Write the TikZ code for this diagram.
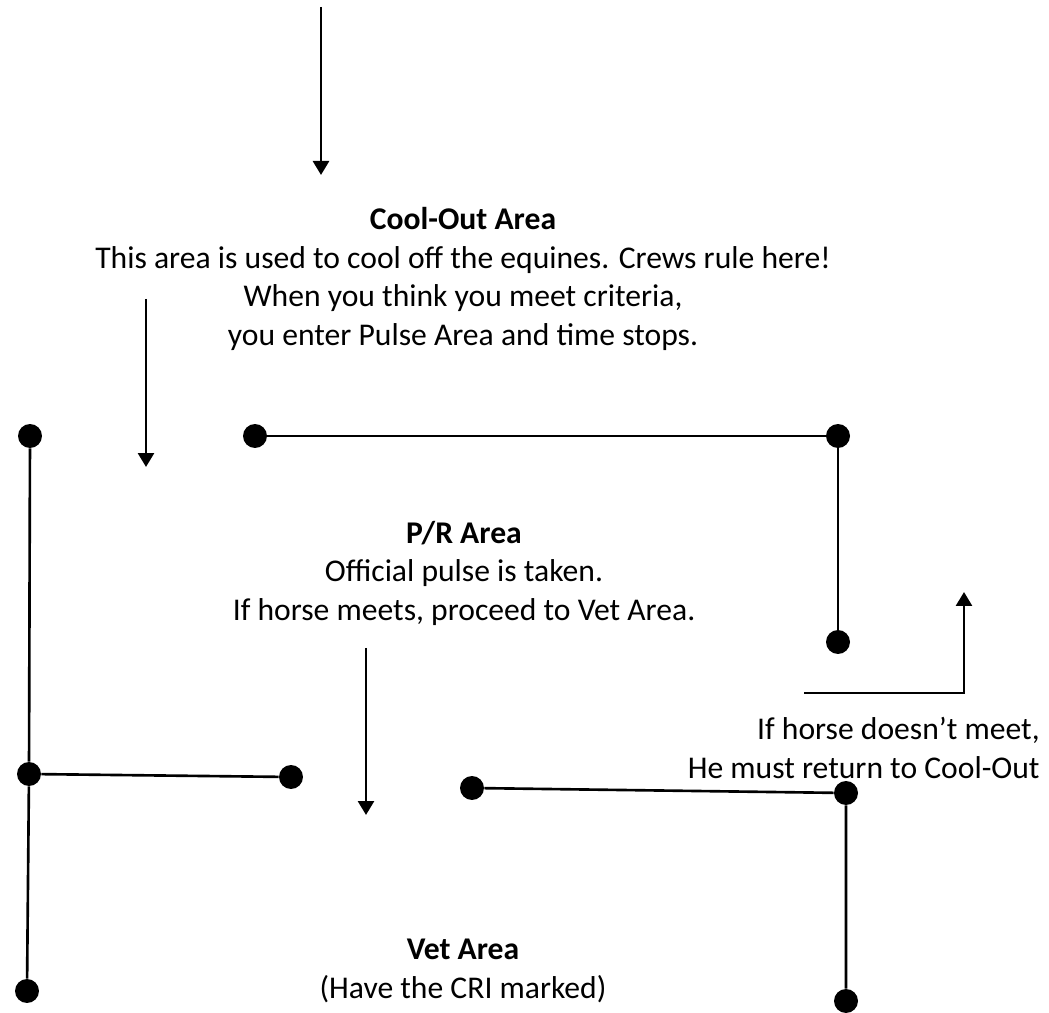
\documentclass[tikz,border=0pt]{standalone}
\usepackage{fontspec}
\setmainfont{Carlito}
\usetikzlibrary{arrows.meta,positioning}

\begin{document}
\begin{tikzpicture}[x=0.02cm,y=-0.02cm,
		junction/.style={circle,fill=black,minimum size=0.48cm,inner sep=0pt},
		areatext/.style={align=center,font=\fontsize{18pt}{21.9pt}\selectfont,inner sep=0pt},
		flow/.style={-{Triangle[width=0.32cm,length=0.28cm]},line width=1.5pt},
		wall/.style={line width=1.5pt}]
				\useasboundingbox (0,0) rectangle (1049,1013);
				
				\node[areatext] (coolout) at (463,279) {\textbf{Cool-Out Area}\\This area is used to cool off the equines. Crews rule here!\\When you think you meet criteria,\\you enter Pulse Area and time stops.};
				\node[areatext] (pulse) at (464,573) {\textbf{P/R Area}\\Official pulse is taken.\\If horse meets, proceed to Vet Area.};
				\node[areatext] (vet) at (463,971) {\textbf{Vet Area}\\(Have the CRI marked)};
				\node[areatext, align=right, anchor=east] (recheck) at (1040,748) {If horse doesn’t meet,\\He must return to Cool-Out};
				
				\node[junction] (d1) at (30,436) {};
				\node[junction] (d2) at (255,436) {};
				\node[junction] (d3) at (838,436) {};
				\node[junction] (d4) at (838,642) {};
				\node[junction] (d5) at (29,774) {};
				\node[junction] (d6) at (27,991) {};
				\node[junction] (d7) at (291,777) {};
				\node[junction] (d8) at (472,788) {};
				\node[junction] (d9) at (846,793) {};
				\node[junction] (d10) at (846,1001) {};
				
				\coordinate (entry) at (321,7);
				\coordinate (entrytip) at (321,175);
				\coordinate (toPulse) at (146,299);
				\coordinate (toPulsetip) at (146,467);
				\coordinate (toVet) at (366,648);
				\coordinate (toVettip) at (366,815);
				\coordinate (back) at (804,693);
				\coordinate (backturn) at (964,693);
				\coordinate (backtip) at (964,592);
				
				\draw[flow] (entry) -- (entrytip);
				\draw[flow] (toPulse) -- (toPulsetip);
				\draw[flow] (toVet) -- (toVettip);
				\draw[flow] (back) -- (backturn) -- (backtip);
				
				\draw[wall] (d1) -- (d5) -- (d6);
				\draw[wall] (d5) -- (d7);
				\draw[wall] (d2) -- (d3) -- (d4);
				\draw[wall] (d8) -- (d9) -- (d10);
			\end{tikzpicture}
\end{document}
